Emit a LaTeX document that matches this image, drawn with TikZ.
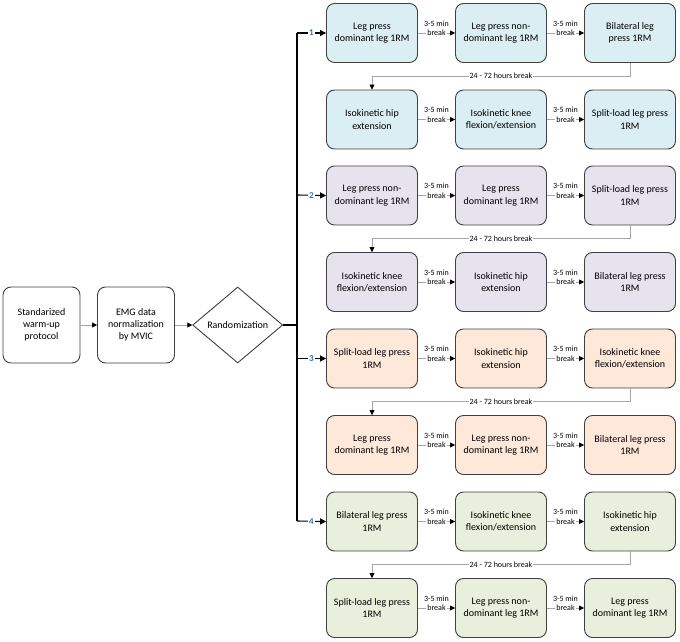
\documentclass[tikz,border=0pt]{standalone}
\usepackage{fontspec}
\setmainfont{Carlito}
\usetikzlibrary{arrows.meta,shapes.geometric,calc}
\definecolor{cblue}{HTML}{DBEEF4}
\definecolor{clav}{HTML}{E6E3EE}
\definecolor{corange}{HTML}{FDE8DA}
\definecolor{cgreen}{HTML}{E8EFDC}
\definecolor{boxline}{HTML}{404040}
\definecolor{conngray}{HTML}{A6A6A6}
\definecolor{numblue}{HTML}{2E75B6}
\tikzset{
  box/.style={draw=boxline, line width=0.9pt, rounded corners=8pt, minimum width=91pt, minimum height=59pt, align=center, inner sep=1pt, font=\fontsize{10}{12.3}\selectfont},
  leftbox/.style={box, minimum width=77pt, minimum height=76pt, fill=white},
  conn/.style={draw=conngray, line width=0.7pt, -{Triangle[length=5pt,width=5pt,color=black]}},
  brk/.style={fill=white, inner sep=1pt, font=\fontsize{8}{9}\selectfont},
  brktop/.style={above=6.5pt, inner sep=0pt, font=\fontsize{8}{9}\selectfont},
  hrs/.style={fill=white, inner sep=1pt, font=\fontsize{8}{9}\selectfont},
  trunkline/.style={draw=black, line width=1.1pt},
  branch/.style={draw=black, line width=1.1pt, -{Triangle[length=6pt,width=6pt]}},
  num/.style={fill=white, inner sep=1pt, text=numblue, font=\bfseries\fontsize{9}{10}\selectfont},
}
\begin{document}
\begin{tikzpicture}[x=1pt,y=-1pt]
\useasboundingbox (0,0) rectangle (680,642);
% left part
\node[leftbox] (warm) at (41.5,325) {Standarized\\warm-up\\protocol};
\node[leftbox] (emg) at (136,325) {EMG data\\normalization\\by MVIC};
\node[draw=boxline, line width=0.9pt, diamond, fill=white, minimum width=90pt, minimum height=76pt, aspect=1.18, inner sep=0pt, font=\fontsize{10}{12.3}\selectfont] (rand) at (237.7,325) {Randomization};
\draw[conn] (warm) -- (emg);
\draw[conn] (emg) -- (rand);
% trunk coordinates
\coordinate (t1) at (297,33);
\coordinate (t2) at (297,195);
\coordinate (t3) at (297,358.5);
\coordinate (t4) at (297,521);
\draw[trunkline] (t1) -- (t4);
\draw[trunkline] (rand.east) -- (rand.east -| t1);
% group 1
\node[box, fill=cblue] (b11) at (372,33) {Leg press\\dominant leg 1RM};
\node[box, fill=cblue] (b12) at (501,33) {Leg press non-\\dominant leg 1RM};
\node[box, fill=cblue] (b13) at (630,33) {Bilateral leg\\press 1RM};
\node[box, fill=cblue] (b21) at (372,119.5) {Isokinetic hip\\extension};
\node[box, fill=cblue] (b22) at (501,119.5) {Isokinetic knee\\flexion/extension};
\node[box, fill=cblue] (b23) at (630,119.5) {Split-load leg press\\1RM};
% group 2
\node[box, fill=clav] (b31) at (372,195.5) {Leg press non-\\dominant leg 1RM};
\node[box, fill=clav] (b32) at (501,195.5) {Leg press\\dominant leg 1RM};
\node[box, fill=clav] (b33) at (630,195.5) {Split-load leg press\\1RM};
\node[box, fill=clav] (b41) at (372,282) {Isokinetic knee\\flexion/extension};
\node[box, fill=clav] (b42) at (501,282) {Isokinetic hip\\extension};
\node[box, fill=clav] (b43) at (630,282) {Bilateral leg press\\1RM};
% group 3
\node[box, fill=corange] (b51) at (372,358.5) {Split-load leg press\\1RM};
\node[box, fill=corange] (b52) at (501,358.5) {Isokinetic hip\\extension};
\node[box, fill=corange] (b53) at (630,358.5) {Isokinetic knee\\flexion/extension};
\node[box, fill=corange] (b61) at (372,445) {Leg press\\dominant leg 1RM};
\node[box, fill=corange] (b62) at (501,445) {Leg press non-\\dominant leg 1RM};
\node[box, fill=corange] (b63) at (630,445) {Bilateral leg press\\1RM};
% group 4
\node[box, fill=cgreen] (b71) at (372,521.5) {Bilateral leg press\\1RM};
\node[box, fill=cgreen] (b72) at (501,521.5) {Isokinetic knee\\flexion/extension};
\node[box, fill=cgreen] (b73) at (630,521.5) {Isokinetic hip\\extension};
\node[box, fill=cgreen] (b81) at (372,608) {Split-load leg press\\1RM};
\node[box, fill=cgreen] (b82) at (501,608) {Leg press non-\\dominant leg 1RM};
\node[box, fill=cgreen] (b83) at (630,608) {Leg press\\dominant leg 1RM};
% short breaks
\foreach \r in {1,...,8}{
  \draw[conn] (b\r1.east) -- node[brk] (k\r a) {break} node[brktop] {3-5 min} (b\r2.west);
  \draw[conn] (b\r2.east) -- node[brk] (k\r b) {break} node[brktop] {3-5 min} (b\r3.west);
}
% long breaks
\foreach \a/\b in {1/2,3/4,5/6,7/8}{
  \draw[conn] (b\a3.south) -- ($(b\a3.south)!0.5!(b\a3.south |- b\b1.north)$) -| node[pos=0.25, hrs] {24 - 72 hours break} (b\b1.north);
}
% branches
\draw[branch] (t1) -- node[num] {1} (b11.west);
\draw[branch] (t2) -- node[num] {2} (b31.west);
\draw[branch] (t3) -- node[num] {3} (b51.west);
\draw[branch] (t4) -- node[num] {4} (b71.west);
\end{tikzpicture}
\end{document}
